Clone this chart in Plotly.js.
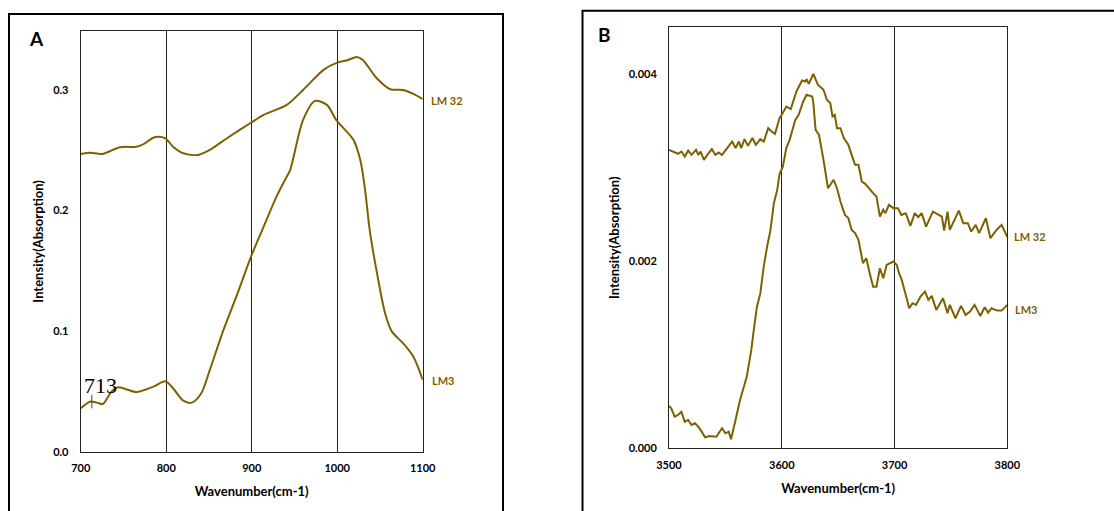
<!DOCTYPE html>
<html>
<head>
<meta charset="utf-8">
<script src="https://cdn.plot.ly/plotly-3.0.1.min.js"></script>
<style>html,body{margin:0;padding:0;background:#fff;}#chart{width:1114px;height:511px;}</style>
</head>
<body>
<div id="chart"></div>
<script>
// Panel A (700-1100 cm-1)
const aWave32 = [700,711,725,746,765,773,787,799,808,820,837,851,871,900,914,941,960,984,1000,1011,1023,1030,1046,1062,1077,1089,1100];
const aLM32 = [0.247,0.248,0.247,0.2526,0.253,0.255,0.261,0.260,0.253,0.2476,0.2462,0.2504,0.260,0.2733,0.2794,0.2877,0.300,0.3168,0.3228,0.3245,0.3275,0.325,0.310,0.3007,0.300,0.2968,0.2925];
const aWave3 = [700,711,719,726,736,744,765,785,799,808,820,830,841,851,867,882,900,914,929,939,945,960,974,988,999,1019,1027,1031,1034,1038,1048,1056,1064,1077,1089,1100];
const aLM3 = [0.036,0.0415,0.0407,0.0396,0.0498,0.0534,0.0495,0.054,0.0584,0.0526,0.0423,0.0407,0.0485,0.0678,0.101,0.1286,0.1632,0.1867,0.2116,0.2255,0.2338,0.275,0.291,0.2877,0.275,0.2587,0.242,0.2255,0.209,0.184,0.1425,0.1149,0.0996,0.090,0.0789,0.0595];

// Panel B (3500-3800 cm-1)
const bWave32 = [3500,3504,3508,3511,3514,3517,3520,3524,3526,3528,3531,3534,3538,3541,3544,3547,3551,3556,3559,3562,3564,3567,3570,3574,3577,3581,3584,3588,3591,3594,3598,3600,3604,3608,3613,3618,3621,3622,3624,3628,3632,3637,3640,3643,3645,3647,3649,3652,3655,3659,3662,3665,3668,3671,3674,3677,3681,3684,3687,3690,3692,3695,3699,3703,3706,3710,3714,3718,3721,3724,3728,3734,3739,3742,3744,3747,3749,3752,3757,3761,3765,3768,3772,3775,3781,3785,3791,3795,3800];
const bLM32 = [0.003190,0.003172,0.003148,0.003172,0.003119,0.003183,0.003137,0.003190,0.003137,0.003172,0.003083,0.003137,0.003198,0.003137,0.003161,0.003137,0.003198,0.003279,0.003209,0.003279,0.003209,0.003305,0.003233,0.003316,0.003244,0.003305,0.003279,0.003422,0.003386,0.003361,0.003529,0.003565,0.003653,0.003626,0.003814,0.003931,0.003920,0.003946,0.003896,0.004003,0.003886,0.003832,0.003725,0.003690,0.003547,0.003565,0.003422,0.003422,0.003316,0.003244,0.003137,0.003030,0.003030,0.002851,0.002827,0.002780,0.002727,0.002691,0.002477,0.002549,0.002513,0.002602,0.002567,0.002567,0.002495,0.002513,0.002378,0.002513,0.002470,0.002513,0.002370,0.002530,0.002495,0.002477,0.002327,0.002530,0.002335,0.002406,0.002541,0.002406,0.002406,0.002317,0.002388,0.002300,0.002460,0.002246,0.002342,0.002388,0.002257];
const bWave3 = [3500,3502,3505,3508,3511,3514,3517,3520,3523,3526,3529,3532,3536,3542,3547,3550,3553,3555,3559,3563,3569,3573,3575,3578,3581,3584,3587,3590,3593,3596,3598,3601,3604,3607,3612,3615,3619,3622,3627,3628,3630,3633,3637,3641,3646,3649,3652,3656,3659,3662,3665,3668,3672,3675,3678,3681,3684,3687,3690,3693,3699,3702,3704,3706,3710,3713,3716,3719,3723,3727,3730,3733,3737,3743,3747,3749,3754,3759,3763,3767,3771,3776,3780,3783,3786,3791,3795,3800];
const bLM3 = [0.000452,0.000428,0.000338,0.000356,0.000391,0.000284,0.000303,0.000249,0.000267,0.000231,0.000178,0.000118,0.000132,0.000124,0.000214,0.000160,0.000178,0.000096,0.000303,0.000517,0.000766,0.001051,0.001247,0.001514,0.001658,0.001942,0.002156,0.002335,0.002620,0.002762,0.002930,0.003012,0.003209,0.003297,0.003511,0.003565,0.003707,0.003779,0.003761,0.003690,0.003404,0.003351,0.003083,0.002780,0.002870,0.002780,0.002637,0.002495,0.002460,0.002335,0.002300,0.002228,0.001979,0.002032,0.001872,0.001728,0.001728,0.001925,0.001818,0.001960,0.001996,0.001960,0.001872,0.001818,0.001639,0.001497,0.001551,0.001533,0.001621,0.001675,0.001586,0.001629,0.001479,0.001604,0.001444,0.001533,0.001390,0.001522,0.001426,0.001461,0.001533,0.001415,0.001508,0.001450,0.001497,0.001472,0.001472,0.001533];

const seriesNames = ['LM 32','LM3'];
const xTitle = 'Wavenumber(cm-1)';
const yTitle = 'Intensity(Absorption)';
const panelLabels = ['A','B'];
const peakLabel = '713';
const peakWave = 713;

const lineColor = '#7f6000';
const W = 1114, H = 511;
const px = v => v / W;
const py = v => 1 - v / H;

const fontFam = 'Lato, "Open Sans", sans-serif';

const traces = [
  {x: aWave32, y: aLM32, xaxis:'x', yaxis:'y', mode:'lines', name: seriesNames[0], line:{color: lineColor, width: 2, shape:'spline', smoothing: 0.8}},
  {x: aWave3, y: aLM3, xaxis:'x', yaxis:'y', mode:'lines', name: seriesNames[1], line:{color: lineColor, width: 2, shape:'spline', smoothing: 0.8}},
  {x: bWave32, y: bLM32, xaxis:'x2', yaxis:'y2', mode:'lines', name: seriesNames[0], line:{color: lineColor, width: 2}},
  {x: bWave3, y: bLM3, xaxis:'x2', yaxis:'y2', mode:'lines', name: seriesNames[1], line:{color: lineColor, width: 2}}
];

const tickFont = {family: fontFam, size: 11, color: '#000', weight: 'bold'};
const titleFont = {family: fontFam, size: 13, color: '#000', weight: 'bold'};

function xAx(domain, range, anchor, titleStandoff) {
  return {domain, range, anchor, dtick: 100, tick0: range[0], showgrid: true, gridcolor: '#222', gridwidth: 1,
    showline: true, mirror: true, linecolor: '#222', linewidth: 1, ticks: '', zeroline: false,
    tickfont: tickFont, ticklabelstandoff: 6, fixedrange: true,
    title: {text: xTitle, font: titleFont, standoff: titleStandoff}};
}
function yAx(domain, range, anchor, dtick, fmt, titleStandoff) {
  return {domain, range, anchor, dtick, tick0: 0, tickformat: fmt, showgrid: false,
    showline: true, mirror: true, linecolor: '#222', linewidth: 1, ticks: '', zeroline: false,
    tickfont: tickFont, ticklabelstandoff: 9, fixedrange: true,
    title: {text: yTitle, font: titleFont, standoff: titleStandoff}};
}

const layout = {
  width: W, height: H,
  margin: {l: 0, r: 0, t: 0, b: 0},
  paper_bgcolor: '#fff', plot_bgcolor: '#fff',
  showlegend: false,
  xaxis: xAx([px(80.7), px(422.7)], [700, 1100], 'y', 13),
  yaxis: yAx([py(451.7), py(31)], [0, 0.349], 'x', 0.1, '.1f', 6),
  xaxis2: xAx([px(669), px(1007.3)], [3500, 3800], 'y2', 14),
  yaxis2: yAx([py(448.3), py(27.3)], [0, 0.0045], 'x2', 0.002, '.3f', 6),
  shapes: [
    {type:'rect', xref:'paper', yref:'paper', x0: px(9), x1: px(503), y0: -0.05, y1: py(14), line:{color:'#000', width:2}},
    {type:'rect', xref:'paper', yref:'paper', x0: px(582.5), x1: 1.05, y0: -0.05, y1: py(10.7), line:{color:'#000', width:2}},
    {type:'line', xref:'x', yref:'y', x0: peakWave, x1: peakWave, y0: 0.036, y1: 0.047, line:{color:'#444', width:1}}
  ],
  annotations: [
    {xref:'paper', yref:'paper', x: px(27), y: py(38), xanchor:'left', yanchor:'middle', text: panelLabels[0], showarrow:false, font:{family: fontFam, size: 19, color:'#000', weight:'bold'}},
    {xref:'paper', yref:'paper', x: px(596), y: py(34), xanchor:'left', yanchor:'middle', text: panelLabels[1], showarrow:false, font:{family: fontFam, size: 19, color:'#000', weight:'bold'}},
    {xref:'x', yref:'y', x: 702, y: 0.0548, xanchor:'left', yanchor:'middle', text: peakLabel, showarrow:false, font:{family: '"Liberation Serif", "DejaVu Serif", serif', size: 22, color:'#000'}},
    {xref:'paper', yref:'paper', x: px(429), y: py(100), xanchor:'left', yanchor:'middle', text: seriesNames[0], showarrow:false, font:{family: fontFam, size: 11, color: lineColor, weight:'bold'}},
    {xref:'paper', yref:'paper', x: px(430), y: py(380), xanchor:'left', yanchor:'middle', text: seriesNames[1], showarrow:false, font:{family: fontFam, size: 11, color: lineColor, weight:'bold'}},
    {xref:'paper', yref:'paper', x: px(1012), y: py(237), xanchor:'left', yanchor:'middle', text: seriesNames[0], showarrow:false, font:{family: fontFam, size: 11, color: lineColor, weight:'bold'}},
    {xref:'paper', yref:'paper', x: px(1013), y: py(309), xanchor:'left', yanchor:'middle', text: seriesNames[1], showarrow:false, font:{family: fontFam, size: 11, color: lineColor, weight:'bold'}}
  ]
};

Plotly.newPlot('chart', traces, layout, {displayModeBar: false, staticPlot: true});
</script>
</body>
</html>
